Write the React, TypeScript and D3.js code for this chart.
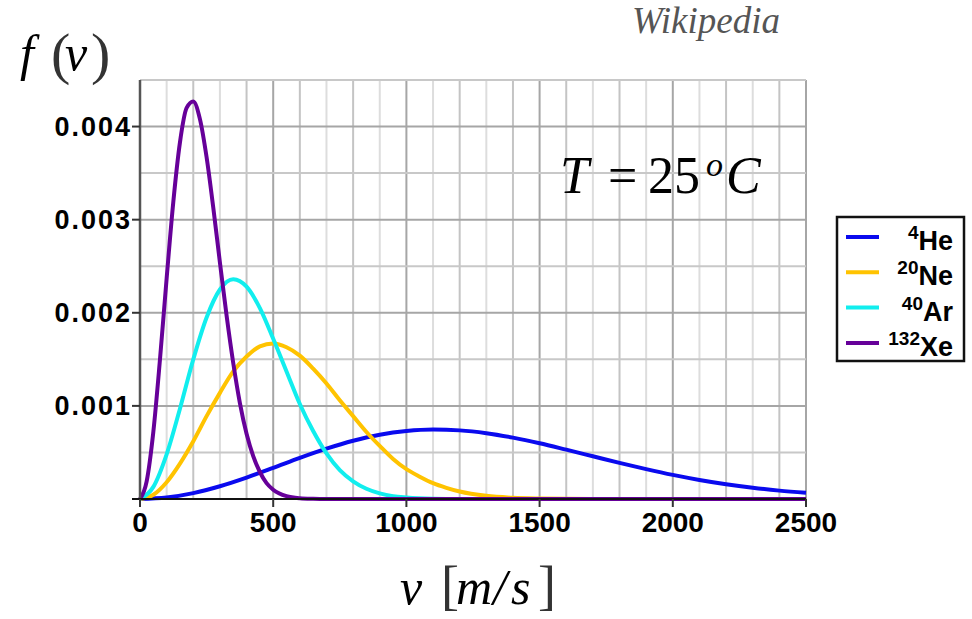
import React, { useEffect, useRef } from 'react'
import * as d3 from 'd3'

// speeds in m/s, f(v) in units of 0.001 s/m
const xeSpeed = [0, 25, 50, 75, 100, 125, 150, 175, 200, 225, 250, 275, 300, 325, 350, 375, 400, 425, 450, 475, 500, 550, 600, 650, 700, 2500]
const xeF = [0, 0.19, 0.72, 1.5, 2.37, 3.19, 3.83, 4.2, 4.27, 4.08, 3.67, 3.13, 2.54, 1.97, 1.46, 1.03, 0.7, 0.46, 0.29, 0.17, 0.1, 0.03, 0.008, 0.002, 0, 0]

const arSpeed = [0, 50, 100, 150, 200, 250, 300, 350, 400, 450, 500, 550, 600, 650, 700, 750, 800, 850, 900, 950, 1000, 1100, 1200, 2500]
const arF = [0, 0.13, 0.48, 0.97, 1.5, 1.95, 2.25, 2.36, 2.28, 2.05, 1.72, 1.37, 1.02, 0.73, 0.49, 0.31, 0.19, 0.11, 0.06, 0.03, 0.016, 0.003, 0, 0]

const neSpeed = [0, 50, 100, 150, 200, 250, 300, 350, 400, 450, 500, 550, 600, 650, 700, 750, 800, 850, 900, 950, 1000, 1050, 1100, 1150, 1200, 1300, 1400, 1500, 1600, 1700, 2500]
const neF = [0, 0.045, 0.18, 0.38, 0.62, 0.89, 1.14, 1.37, 1.53, 1.64, 1.67, 1.63, 1.54, 1.4, 1.24, 1.06, 0.89, 0.72, 0.57, 0.43, 0.32, 0.24, 0.17, 0.12, 0.08, 0.034, 0.013, 0.005, 0.0015, 0, 0]

const heSpeed = [0, 100, 200, 300, 400, 500, 600, 700, 800, 900, 1000, 1100, 1200, 1300, 1400, 1500, 1600, 1700, 1800, 1900, 2000, 2100, 2200, 2300, 2400, 2500]
const heF = [0, 0.016, 0.063, 0.137, 0.23, 0.334, 0.441, 0.54, 0.625, 0.69, 0.73, 0.746, 0.737, 0.707, 0.659, 0.599, 0.53, 0.459, 0.388, 0.321, 0.259, 0.205, 0.159, 0.121, 0.09, 0.066]

const gases = [
  { mass: '4', name: 'He', color: '#0a0aee', v: heSpeed, f: heF },
  { mass: '20', name: 'Ne', color: '#ffc300', v: neSpeed, f: neF },
  { mass: '40', name: 'Ar', color: '#11eeee', v: arSpeed, f: arF },
  { mass: '132', name: 'Xe', color: '#660099', v: xeSpeed, f: xeF },
]

const xTicks = [0, 500, 1000, 1500, 2000, 2500]
const yTicks = [0.001, 0.002, 0.003, 0.004]

const App = () => {
  const ref = useRef<SVGSVGElement>(null)

  useEffect(() => {
    const svg = d3.select(ref.current)
    svg.selectAll('*').remove()

    const left = 140, right = 806, top = 80, bottom = 499
    const x = d3.scaleLinear().domain([0, 2500]).range([left, right])
    const y = d3.scaleLinear().domain([0, 0.0045]).range([bottom, top])

    // grid
    const grid = svg.append('g')
    grid.selectAll('line.v')
      .data(d3.range(100, 2501, 100))
      .enter().append('line')
      .attr('x1', d => x(d)).attr('x2', d => x(d))
      .attr('y1', top).attr('y2', bottom)
      .attr('stroke', d => d % 500 === 0 ? '#a6a6a6' : (d % 200 === 0 ? '#c4c4c4' : '#dddddd'))
      .attr('stroke-width', 2)
    grid.selectAll('line.h')
      .data(d3.range(1, 10).map(i => i * 0.0005))
      .enter().append('line')
      .attr('x1', left).attr('x2', right)
      .attr('y1', d => y(d)).attr('y2', d => y(d))
      .attr('stroke', (d, i) => i % 2 === 1 ? '#a6a6a6' : '#c8c8c8')
      .attr('stroke-width', 2)

    // curves
    const line = d3.line<[number, number]>()
      .x(d => x(d[0]))
      .y(d => y(d[1] / 1000))
      .curve(d3.curveMonotoneX)
    gases.forEach(g => {
      svg.append('path')
        .attr('d', line(g.v.map((v, i) => [v, g.f[i]] as [number, number])))
        .attr('fill', 'none')
        .attr('stroke', g.color)
        .attr('stroke-width', 4)
        .attr('stroke-linejoin', 'round')
    })

    // axes
    svg.append('line').attr('x1', left).attr('x2', left).attr('y1', top).attr('y2', bottom + 1)
      .attr('stroke', '#555').attr('stroke-width', 2.5)
    svg.append('line').attr('x1', left - 8).attr('x2', right).attr('y1', bottom).attr('y2', bottom)
      .attr('stroke', '#111').attr('stroke-width', 2)

    svg.append('g').selectAll('line')
      .data(yTicks).enter().append('line')
      .attr('x1', left - 8).attr('x2', left).attr('y1', d => y(d)).attr('y2', d => y(d))
      .attr('stroke', '#333').attr('stroke-width', 2)
    svg.append('g').selectAll('text')
      .data(yTicks).enter().append('text')
      .attr('x', left - 8).attr('y', d => y(d) + 9)
      .attr('text-anchor', 'end')
      .style('font-family', 'Liberation Sans, Arial, sans-serif')
      .style('font-weight', 'bold').style('font-size', '27px').style('letter-spacing', '2px')
      .text(d => d.toFixed(3))

    svg.append('g').selectAll('line')
      .data(xTicks).enter().append('line')
      .attr('x1', d => x(d)).attr('x2', d => x(d)).attr('y1', bottom).attr('y2', bottom + 8)
      .attr('stroke', '#333').attr('stroke-width', 2)
    svg.append('g').selectAll('text')
      .data(xTicks).enter().append('text')
      .attr('x', d => x(d)).attr('y', bottom + 33)
      .attr('text-anchor', 'middle')
      .style('font-family', 'Liberation Sans, Arial, sans-serif')
      .style('font-weight', 'bold').style('font-size', '28px')
      .text(d => String(d))

    const serif = 'Liberation Serif, DejaVu Serif, serif'

    // f(v)
    const fv = svg.append('text').attr('y', 70)
      .style('font-family', serif).style('font-size', '50px')
    fv.append('tspan').attr('x', 20).style('font-style', 'italic').text('f')
    fv.append('tspan').attr('x', 51).attr('dy', 3).style('font-size', '58px').attr('fill', '#333').text('(')
    fv.append('tspan').attr('x', 65).attr('dy', -3).style('font-style', 'italic').text('v')
    fv.append('tspan').attr('x', 91).attr('dy', 3).style('font-size', '58px').attr('fill', '#333').text(')')

    // T = 25 oC
    const tt = svg.append('text').attr('y', 193)
      .style('font-family', serif).style('font-size', '52px')
    tt.append('tspan').attr('x', 560).style('font-style', 'italic').text('T')
    tt.append('tspan').attr('x', 608).text('=')
    tt.append('tspan').attr('x', 648).text('25')
    tt.append('tspan').attr('x', 706).attr('dy', -17).style('font-style', 'italic').style('font-size', '34px').text('o')
    tt.append('tspan').attr('x', 726).attr('dy', 17).style('font-style', 'italic').text('C')

    // v [m/s]
    const vl = svg.append('text').attr('y', 604)
      .style('font-family', serif).style('font-size', '50px')
    vl.append('tspan').attr('x', 400).style('font-style', 'italic').text('v')
    vl.append('tspan').attr('x', 441).style('font-size', '54px').attr('fill', '#333').text('[')
    vl.append('tspan').attr('x', 456).style('font-style', 'italic').text('m')
    vl.append('tspan').attr('x', 493).style('font-style', 'italic').text('/')
    vl.append('tspan').attr('x', 511).style('font-style', 'italic').text('s')
    vl.append('tspan').attr('x', 538).style('font-size', '54px').attr('fill', '#333').text(']')

    // watermark
    svg.append('text').attr('x', 632).attr('y', 33)
      .style('font-family', serif).style('font-style', 'italic').style('font-size', '37px')
      .attr('fill', '#555').text('Wikipedia')

    // legend
    const lg = svg.append('g')
    lg.append('rect').attr('x', 837).attr('y', 217).attr('width', 127).attr('height', 144)
      .attr('fill', 'white').attr('stroke', '#111').attr('stroke-width', 2.5)
    gases.forEach((g, i) => {
      const ly = 237 + i * 35.3
      lg.append('line').attr('x1', 846).attr('x2', 879).attr('y1', ly).attr('y2', ly)
        .attr('stroke', g.color).attr('stroke-width', 4)
      const t = lg.append('text').attr('x', 953).attr('y', ly + 13)
        .attr('text-anchor', 'end')
        .style('font-family', 'Liberation Sans, Arial, sans-serif').style('font-weight', 'bold')
        .style('font-size', '27px')
      t.append('tspan').attr('dy', -11).style('font-size', '19px').text(g.mass)
      t.append('tspan').attr('dy', 11).text(g.name)
    })
  }, [])

  return (
    <svg ref={ref} width={972} height={619}
      style={{ position: 'absolute', left: 0, top: 0, background: 'white' }} />
  )
}

export default App
